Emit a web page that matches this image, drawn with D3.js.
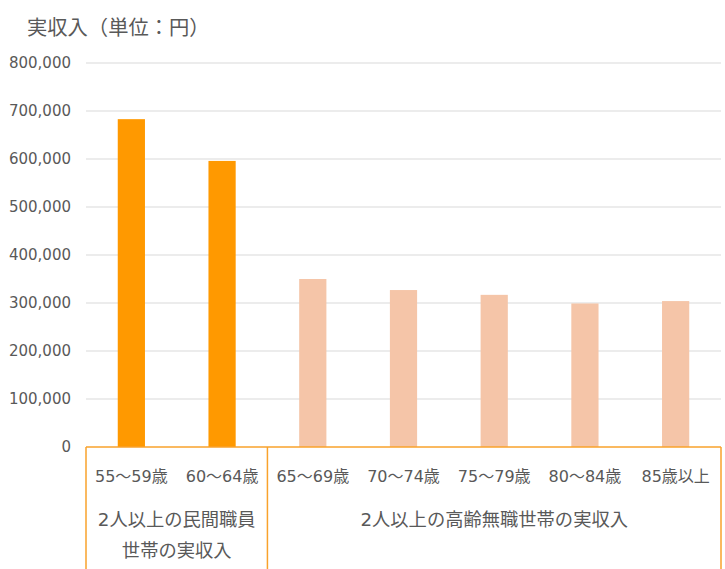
<!DOCTYPE html>
<html>
<head>
<meta charset="utf-8">
<script src="https://cdn.jsdelivr.net/npm/d3@7"></script>
<style>
  body { margin: 0; background: #fff; }
  svg text { font-family: "DejaVu Sans", "Noto Sans CJK JP", sans-serif; fill: #595959; }
  svg text.cjk { font-family: "Noto Sans CJK JP", sans-serif; }
</style>
</head>
<body>
<div id="chart"></div>
<script>
// age brackets and average monthly income (yen)
const categories = ["55〜59歳", "60〜64歳", "65〜69歳", "70〜74歳", "75〜79歳", "80〜84歳", "85歳以上"];
const incomes = [683000, 596000, 350000, 327000, 317000, 299000, 304000];
const groupIndex = [0, 0, 1, 1, 1, 1, 1];
const groupLabels = [["2人以上の民間職員", "世帯の実収入"], ["2人以上の高齢無職世帯の実収入"]];
const yTicks = [0, 100000, 200000, 300000, 400000, 500000, 600000, 700000, 800000];
const barColors = ["#FF9900", "#F5C5A8"];

const W = 725, H = 569;
const margin = {top: 63, right: 4, bottom: 122, left: 86};
const width = W - margin.left - margin.right;
const height = H - margin.top - margin.bottom;

const svg = d3.select("#chart")
    .append("svg")
    .attr("width", W)
    .attr("height", H);

const g = svg.append("g")
    .attr("transform", `translate(${margin.left},${margin.top})`);

const x = d3.scaleBand()
    .domain(categories)
    .range([0, width]);

const y = d3.scaleLinear()
    .domain([0, 800000])
    .range([height, 0]);

// title
svg.append("text")
    .attr("class", "cjk")
    .attr("x", 27)
    .attr("y", 26)
    .attr("dominant-baseline", "central")
    .style("font-size", "20.3px")
    .text("実収入（単位：円）");

// gridlines
g.selectAll(".grid")
    .data(yTicks.filter(d => d > 0))
    .enter()
    .append("line")
    .attr("x1", 0)
    .attr("x2", width)
    .attr("y1", d => y(d))
    .attr("y2", d => y(d))
    .attr("stroke", "#D9D9D9")
    .attr("stroke-width", 1);

// y tick labels
const fmt = d3.format(",");
g.selectAll(".ytick")
    .data(yTicks)
    .enter()
    .append("text")
    .attr("x", -15)
    .attr("y", d => y(d))
    .attr("text-anchor", "end")
    .attr("dominant-baseline", "central")
    .style("font-size", "15px")
    .text(d => fmt(d));

// bars
const barW = x.bandwidth() * 0.3;
g.selectAll(".bar")
    .data(incomes)
    .enter()
    .append("rect")
    .attr("x", (d, i) => x(categories[i]) + (x.bandwidth() - barW) / 2)
    .attr("y", d => y(d))
    .attr("width", barW)
    .attr("height", d => height - y(d))
    .attr("fill", (d, i) => barColors[groupIndex[i]]);

// axis line and group brackets
const axisColor = "#F9A22B";
g.append("line")
    .attr("x1", 0).attr("x2", width)
    .attr("y1", height).attr("y2", height)
    .attr("stroke", axisColor)
    .attr("stroke-width", 1.5);

const split = x(categories[2]);
[0, split, width].forEach(px => {
    g.append("line")
        .attr("x1", px).attr("x2", px)
        .attr("y1", height).attr("y2", H - margin.top)
        .attr("stroke", axisColor)
        .attr("stroke-width", 1.5);
});

// category labels
g.selectAll(".cat")
    .data(categories)
    .enter()
    .append("text")
    .attr("x", d => x(d) + x.bandwidth() / 2)
    .attr("y", height + 29)
    .attr("text-anchor", "middle")
    .attr("dominant-baseline", "central")
    .style("font-size", "16px")
    .text(d => d);

// group labels
const groupCenters = [split / 2, (split + width) / 2];
groupLabels.forEach((lines, gi) => {
    lines.forEach((t, li) => {
        g.append("text")
            .attr("x", groupCenters[gi])
            .attr("y", height + 72 + li * 31)
            .attr("text-anchor", "middle")
            .attr("dominant-baseline", "central")
            .style("font-size", "18.3px")
            .text(t);
    });
});
</script>
</body>
</html>
